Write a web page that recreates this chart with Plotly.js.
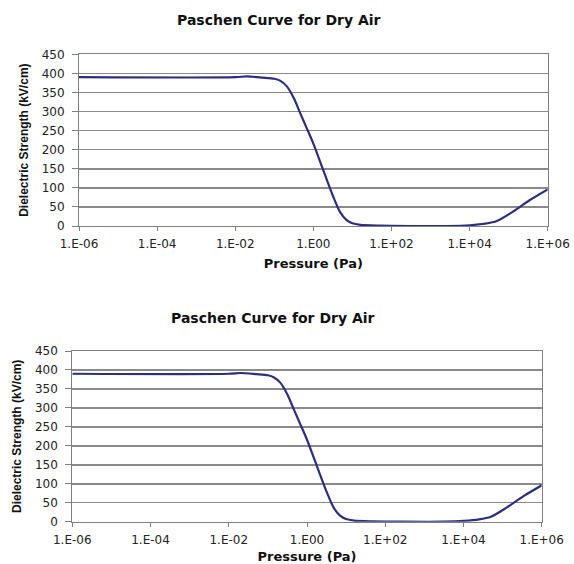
<!DOCTYPE html>
<html>
<head>
<meta charset="utf-8">
<script src="https://cdn.plot.ly/plotly-3.0.1.min.js"></script>
<style>
html,body{margin:0;padding:0;background:#fff;}
#chart{width:574px;height:564px;}
</style>
</head>
<body>
<div id="chart"></div>
<script>
// Data (pressure in Pa, dielectric strength in kV/cm)
const pressure = [1e-6, 1e-2, 2e-2, 5e-2, 0.1, 0.14, 0.21, 0.32, 0.46, 0.68, 1, 1.8, 3.2, 4.8, 7, 10, 16, 50, 300, 3000, 1e4, 2.5e4, 5e4, 1.26e5, 3.5e5, 1e6];
const strength = [390, 390, 392, 389, 386, 381, 366, 334, 296, 256, 216, 146, 78, 37, 16, 7, 3, 1, 0, 0, 2, 6, 13, 37, 68, 96];

const tickVals = [1e-6, 1e-4, 1e-2, 1, 1e2, 1e4, 1e6];
const tickText = ["1.E-06", "1.E-04", "1.E-02", "1.E00", "1.E+02", "1.E+04", "1.E+06"];

const chartTitle = "Paschen Curve for Dry Air";
const xTitle = "Pressure (Pa)";
const yTitle = "Dielectric Strength (kV/cm)";

const lineStyle = {color: '#2b2f80', width: 2.2, shape: 'spline', smoothing: 0.8};

const traces = [
  {x: pressure, y: strength, type: 'scatter', mode: 'lines', line: lineStyle, xaxis: 'x', yaxis: 'y', hoverinfo: 'skip'},
  {x: pressure, y: strength, type: 'scatter', mode: 'lines', line: lineStyle, xaxis: 'x2', yaxis: 'y2', hoverinfo: 'skip'}
];

const W = 574, H = 564;
function xa(domain, anchor) {
  return {
    type: 'log', range: [-6, 6], domain: domain, anchor: anchor,
    tickvals: tickVals, ticktext: tickText,
    showgrid: false, zeroline: false,
    showline: true, linecolor: '#7f7f7f', linewidth: 1, mirror: true,
    ticks: 'outside', ticklen: 4, tickcolor: '#7f7f7f',
    ticklabelstandoff: 3,
    tickfont: {family: 'DejaVu Sans', size: 12, color: '#222'},
    title: {text: xTitle, font: {family: 'DejaVu Sans', size: 13, color: '#111', weight: 'bold'}, standoff: 8},
    fixedrange: true
  };
}
function ya(domain, anchor) {
  return {
    range: [0, 450], dtick: 50, domain: domain, anchor: anchor,
    showgrid: true, gridcolor: '#8a8a8a', gridwidth: 1.5, zeroline: false,
    showline: true, linecolor: '#7f7f7f', linewidth: 1, mirror: true,
    ticks: 'outside', ticklen: 6, tickcolor: '#7f7f7f',
    ticklabelstandoff: 5,
    tickfont: {family: 'DejaVu Sans', size: 12, color: '#222'},
    title: {text: yTitle, font: {family: 'Liberation Sans', size: 12, color: '#111', weight: 'bold'}, standoff: 10},
    fixedrange: true
  };
}

const layout = {
  width: W, height: H,
  margin: {l: 0, r: 0, t: 0, b: 0},
  paper_bgcolor: '#fff', plot_bgcolor: '#fff',
  showlegend: false,
  xaxis: xa([79/W, 547.7/W], 'y'),
  yaxis: ya([1 - 226/H, 1 - 54.3/H], 'x'),
  xaxis2: xa([72.3/W, 541.7/W], 'y2'),
  yaxis2: ya([1 - 521.7/H, 1 - 351/H], 'x2'),
  annotations: [
    {text: chartTitle, xref: 'paper', yref: 'paper', x: 279/W, y: 1 - 20/H, xanchor: 'center', yanchor: 'middle', showarrow: false,
     font: {family: 'DejaVu Sans', size: 14, color: '#111', weight: 'bold'}},
    {text: chartTitle, xref: 'paper', yref: 'paper', x: 273/W, y: 1 - 318/H, xanchor: 'center', yanchor: 'middle', showarrow: false,
     font: {family: 'DejaVu Sans', size: 14, color: '#111', weight: 'bold'}}
  ]
};

Plotly.newPlot('chart', traces, layout, {displayModeBar: false, staticPlot: true});
</script>
</body>
</html>
